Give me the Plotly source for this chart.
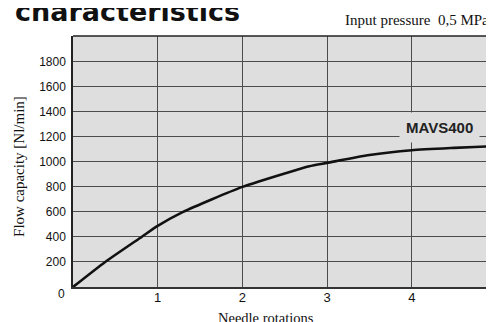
import plotly.graph_objects as go

rotations = [0, 0.38, 0.81, 1.0, 1.30, 2.0, 2.52, 2.79, 3.0, 3.5, 4.0, 4.5, 5.0, 5.07]
flow = [0, 200, 400, 488, 600, 800, 912, 965, 992, 1055, 1093, 1112, 1127, 1129]
y_ticks = [200, 400, 600, 800, 1000, 1200, 1400, 1600, 1800]
x_ticks = [1, 2, 3, 4]

fig = go.Figure()
fig.add_trace(go.Scatter(x=rotations, y=flow, mode="lines", line=dict(color="#111111", width=2.6, shape="spline", smoothing=0.6),
                         showlegend=False, hoverinfo="skip"))

fig.update_layout(
    width=494, height=322,
    margin=dict(l=65, r=0, t=28, b=43, autoexpand=False),
    paper_bgcolor="white", plot_bgcolor="#dedede",
    xaxis=dict(range=[0, 5.065], tickvals=x_ticks, ticktext=[str(v) for v in x_ticks],
               showgrid=True, gridcolor="#4c4c4c", gridwidth=1.4, zeroline=False,
               showline=True, linecolor="#333333", linewidth=1.5, ticks="", automargin=False,
               tickfont=dict(family="Liberation Sans, Arial", size=13, color="#111111"),
               ticklabelstandoff=-2),
    yaxis=dict(range=[0, 2006], tickvals=y_ticks, ticktext=[str(v) for v in y_ticks],
               showgrid=True, gridcolor="#4c4c4c", gridwidth=1.4, zeroline=False,
               showline=True, linecolor="#222222", linewidth=1.5, ticks="", automargin=False,
               tickfont=dict(family="Liberation Sans, Arial", size=12, color="#111111"),
               ticklabelstandoff=3),
    shapes=[dict(type="line", xref="paper", yref="paper", x0=0, x1=1, y0=1, y1=1, line=dict(color="#222", width=1.5))],
    annotations=[
        dict(text="<b>characteristics</b>", xref="paper", yref="paper", x=-0.14, y=1.0, yshift=7,
             xanchor="left", yanchor="bottom", showarrow=False,
             font=dict(family="DejaVu Sans", size=27, color="#111")),
        dict(text="Input pressure  0,5 MPa", xref="paper", yref="paper", x=0.629, y=1.0, yshift=6,
             xanchor="left", yanchor="bottom", showarrow=False,
             font=dict(family="Liberation Serif, Times New Roman", size=15, color="#111")),
        dict(text="Needle rotations", xref="paper", yref="paper", x=0.449, y=0, yshift=-21,
             xanchor="center", yanchor="top", showarrow=False,
             font=dict(family="Liberation Serif, Times New Roman", size=14.5, color="#111")),
        dict(text="Flow capacity [Nl/min]", xref="paper", yref="paper", x=-0.126, y=0.482, textangle=-90,
             xanchor="center", yanchor="middle", showarrow=False,
             font=dict(family="Liberation Serif, Times New Roman", size=15, color="#111")),
        dict(text="<b>MAVS400</b>", x=4.33, y=1272, xref="x", yref="y", showarrow=False,
             bgcolor="#dedede", borderpad=6,
             font=dict(family="Liberation Sans, Arial", size=15, color="#222")),
        dict(text="0", xref="paper", yref="y", x=0, y=0, xanchor="right", xshift=-6, yshift=-7,
             showarrow=False, font=dict(family="Liberation Sans, Arial", size=12, color="#111")),
        dict(text="5", xref="paper", yref="paper", x=0.971, y=0, xanchor="center", yanchor="top", yshift=-1,
             showarrow=False, font=dict(family="Liberation Sans, Arial", size=13, color="#111")),
    ],
)

fig.write_html("out.html")
